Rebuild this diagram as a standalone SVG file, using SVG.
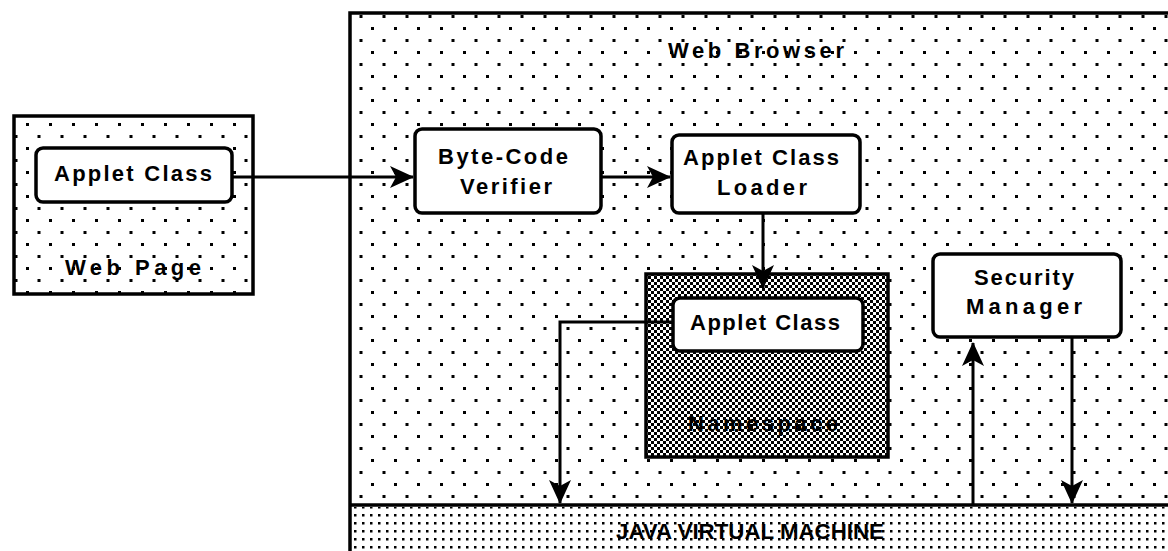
<svg xmlns="http://www.w3.org/2000/svg" width="1168" height="551" viewBox="0 0 1168 551">
<style>
.box{stroke:#000;stroke-width:3.5}
.white{fill:#fff}
.t{font-family:"Liberation Sans",Arial,sans-serif;font-weight:bold;font-size:22px;fill:#000;text-anchor:middle;dominant-baseline:central}
.c{fill:none;stroke:#000;stroke-width:3}
</style>
<defs>
<pattern id="dots" x="0" y="0" width="23" height="24" patternUnits="userSpaceOnUse">
<rect width="23" height="24" fill="#fff"/>
<rect x="3" y="3" width="3" height="3" fill="#000"/>
<rect x="14.5" y="15" width="3" height="3" fill="#000"/>
</pattern>
<pattern id="jvm" x="0" y="0" width="8" height="8" patternUnits="userSpaceOnUse">
<rect width="8" height="8" fill="#fff"/>
<rect x="2" y="2" width="2.5" height="2.5" fill="#000"/>
</pattern>
<pattern id="check" x="0" y="0" width="6" height="6" patternUnits="userSpaceOnUse">
<rect width="6" height="6" fill="#fff"/>
<rect x="0" y="0" width="3" height="3" fill="#000"/>
<rect x="3" y="3" width="3" height="3" fill="#000"/>
</pattern>
<marker id="ah" viewBox="0 0 24 24" refX="23" refY="12" markerWidth="24" markerHeight="24" markerUnits="userSpaceOnUse" orient="auto">
<path d="M0,1 L24,12 L0,23 L6,12 Z" fill="#000"/>
</marker>
</defs>

<g id="web-browser">
<rect class="box" x="350" y="13" width="830" height="550" fill="url(#dots)"/>
<text class="t" x="756" y="50" textLength="176" lengthAdjust="spacing">Web Browser</text>
</g>

<g id="jvm-band">
<rect x="352" y="507" width="820" height="46" fill="url(#jvm)"/>
<line x1="350" y1="505" x2="1168" y2="505" stroke="#000" stroke-width="3.5"/>
<text class="t" x="750" y="531" textLength="268" lengthAdjust="spacingAndGlyphs">JAVA VIRTUAL MACHINE</text>
</g>

<g id="web-page">
<rect class="box" x="14" y="116" width="239" height="178" fill="url(#dots)"/>
<text class="t" x="133" y="267" textLength="136" lengthAdjust="spacing">Web Page</text>
</g>

<g id="web-page-applet">
<rect class="box white" x="36" y="148" width="196" height="54" rx="7"/>
<text class="t" x="133" y="173" textLength="158" lengthAdjust="spacing">Applet Class</text>
</g>

<g id="verifier">
<rect class="box white" x="415" y="129" width="186" height="84" rx="7"/>
<text class="t" x="503" y="156" textLength="130" lengthAdjust="spacing">Byte-Code</text>
<text class="t" x="506" y="186" textLength="92" lengthAdjust="spacing">Verifier</text>
</g>

<g id="class-loader">
<rect class="box white" x="672" y="135" width="188" height="78" rx="7"/>
<text class="t" x="761" y="157" textLength="156" lengthAdjust="spacing">Applet Class</text>
<text class="t" x="762" y="187" textLength="90" lengthAdjust="spacing">Loader</text>
</g>

<g id="namespace">
<rect class="box" x="646" y="274" width="242" height="183" fill="url(#check)"/>
<text class="t" x="763" y="423" textLength="150" lengthAdjust="spacing">Namespace</text>
</g>

<g id="namespace-applet">
<rect class="box white" x="673" y="298" width="190" height="53" rx="7"/>
<text class="t" x="765" y="322" textLength="150" lengthAdjust="spacing">Applet Class</text>
</g>

<g id="security-manager">
<rect class="box white" x="933" y="254" width="188" height="83" rx="7"/>
<text class="t" x="1024" y="277" textLength="100" lengthAdjust="spacing">Security</text>
<text class="t" x="1024" y="306" textLength="116" lengthAdjust="spacing">Manager</text>
</g>

<g id="connectors">
<line class="c" x1="233" y1="177" x2="413" y2="177" marker-end="url(#ah)"/>
<line class="c" x1="602" y1="177" x2="670" y2="177" marker-end="url(#ah)"/>
<line class="c" x1="763" y1="213" x2="763" y2="288" marker-end="url(#ah)"/>
<polyline class="c" points="673,322 560,322 560,503" marker-end="url(#ah)"/>
<line class="c" x1="973" y1="505" x2="973" y2="343" marker-end="url(#ah)"/>
<line class="c" x1="1072" y1="337" x2="1072" y2="503" marker-end="url(#ah)"/>
</g>
</svg>
